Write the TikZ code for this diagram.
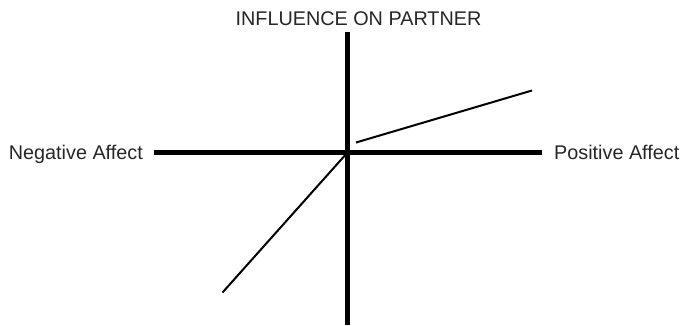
\documentclass[tikz,border=0pt]{standalone}
\usepackage{fontspec}
\setmainfont{Liberation Sans}
\begin{document}
\begin{tikzpicture}[x=1pt,y=-1pt,
  lbl/.style={inner sep=0pt, font=\fontsize{19.8}{22}\selectfont, text=black!85},
  axis/.style={line width=5pt},
  trend/.style={line width=2pt}]
\useasboundingbox (0,0) rectangle (681,325);
\node[lbl, anchor=base] (title) at (358.5,25) {INFLUENCE ON PARTNER};
\node[lbl, anchor=base east] (neg) at (143,159) {Negative Affect};
\node[lbl, anchor=base west] (pos) at (554,159) {Positive Affect};
\coordinate (vtop) at (347.5,32);
\coordinate (vbot) at (347.5,325);
\coordinate (hl) at (154,152.5);
\coordinate (hr) at (542,152.5);
\coordinate (o) at (347.5,152.5);
\coordinate (lowend) at (222.5,292.5);
\coordinate (ustart) at (356,142.5);
\coordinate (uend) at (532,90.5);
\draw[axis] (vtop) -- (vbot);
\draw[axis] (hl) -- (hr);
\draw[trend] (lowend) -- (o);
\draw[trend] (ustart) -- (uend);
\end{tikzpicture}
\end{document}
